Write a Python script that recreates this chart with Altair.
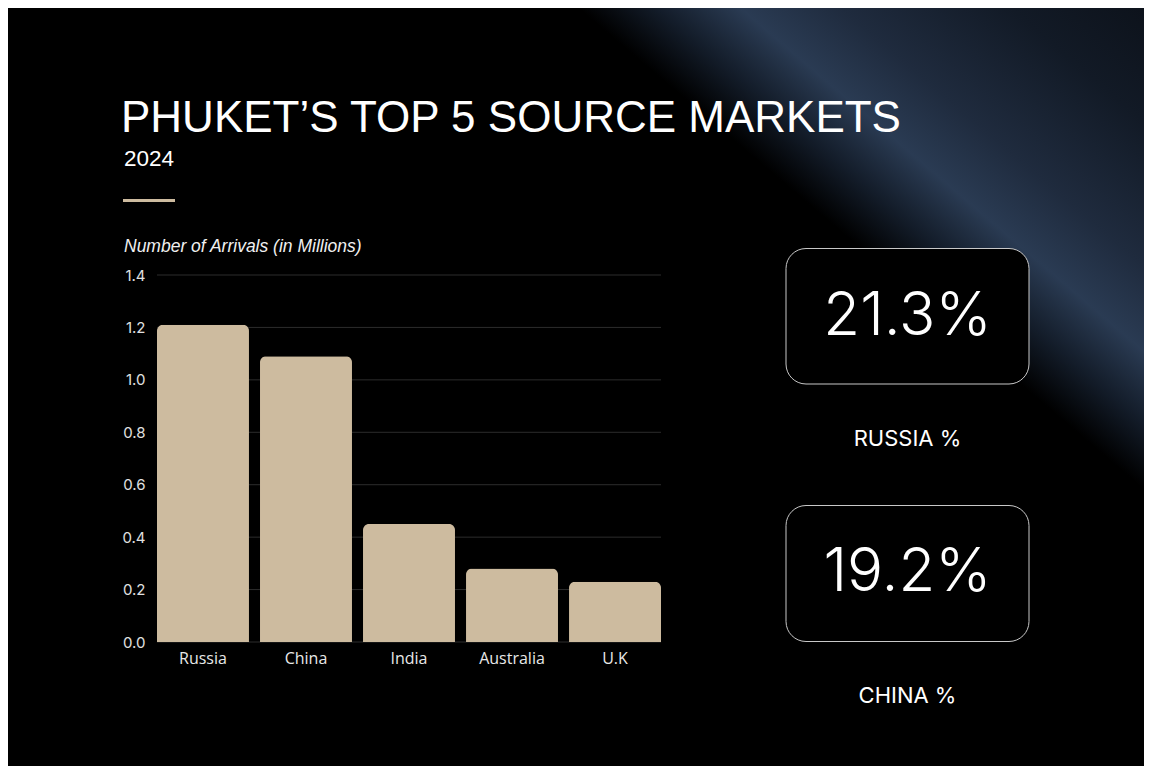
import altair as alt
import pandas as pd

# ---- data ----
markets = ["Russia", "China", "India", "Australia", "U.K"]
arrivals = [1.21, 1.09, 0.45, 0.28, 0.23]
tick_values = [0.0, 0.2, 0.4, 0.6, 0.8, 1.0, 1.2, 1.4]
share_values = ["21.3%", "19.2%"]
share_labels = ["RUSSIA %", "CHINA %"]
title_text = "PHUKET\u2019S TOP 5 SOURCE MARKETS"
subtitle_text = "2024"
axis_title_text = "Number of Arrivals (in Millions)"

df = pd.DataFrame({"market": markets, "arrivals": arrivals})
ticks_df = pd.DataFrame({"v": tick_values})
one = pd.DataFrame({"k": [0]})

W, H = 504, 367
TOTAL_W, TOTAL_H = 1136, 758
PAD_L, PAD_T = 149, 267

BEIGE = "#cdbb9f"
FONT_UI = "Open Sans"

yscale = alt.Scale(domain=[0, 1.4], nice=False)

# square backdrop with a diagonal blue glow towards the top-right
bg = alt.Chart(one).mark_rect(
    fill=alt.LinearGradient(
        gradient="linear",
        x1=0.464, y1=0.060, x2=0.749, y2=-0.275,
        stops=[
            alt.GradientStop(offset=0.0, color="#000000"),
            alt.GradientStop(offset=0.16, color="#000000"),
            alt.GradientStop(offset=0.26, color="#131c29"),
            alt.GradientStop(offset=0.37, color="#2a3b53"),
            alt.GradientStop(offset=0.50, color="#1f2b3e"),
            alt.GradientStop(offset=0.72, color="#121a26"),
            alt.GradientStop(offset=1.0, color="#0a0e15"),
        ],
    ),
    strokeWidth=0,
).encode(
    x=alt.value(-PAD_L), x2=alt.value(TOTAL_W - PAD_L),
    y=alt.value(-PAD_T), y2=alt.value(TOTAL_W - PAD_T),
)

grid = alt.Chart(ticks_df).mark_rule(color="#2c2c2c", strokeWidth=1).encode(
    y=alt.Y("v:Q", scale=yscale),
    x=alt.value(0), x2=alt.value(W),
)

bars = alt.Chart(df).mark_bar(
    color=BEIGE, cornerRadiusTopLeft=6, cornerRadiusTopRight=6
).encode(
    x=alt.X("market:N", sort=markets,
            scale=alt.Scale(paddingInner=0.107, paddingOuter=0),
            axis=alt.Axis(title=None, labelAngle=0, ticks=False, domain=False,
                          labelPadding=8, labelFont=FONT_UI, labelFontSize=16,
                          labelColor="#e8e8e8", zindex=1)),
    y=alt.Y("arrivals:Q", scale=yscale,
            axis=alt.Axis(title=None, values=tick_values, format=".1f",
                          grid=False, ticks=False, domain=False,
                          labelPadding=12, labelFont="Inter", labelFontSize=15,
                          labelColor="#e0e0e0", zindex=1)),
)

def text_layer(txt, x, y, size, font, align="left", baseline="alphabetic",
               weight="normal", style="normal", color="#ffffff"):
    return alt.Chart(pd.DataFrame({"t": [txt]})).mark_text(
        align=align, baseline=baseline, font=font, fontSize=size,
        fontWeight=weight, fontStyle=style, color=color,
    ).encode(text="t:N", x=alt.value(x), y=alt.value(y))

title = text_layer(title_text, -36, -143, 44, "Liberation Sans")
subtitle = text_layer(subtitle_text, -33, -109, 22.5, "Liberation Sans")
accent = alt.Chart(one).mark_rule(color=BEIGE, strokeWidth=3).encode(
    x=alt.value(-34), x2=alt.value(18), y=alt.value(-74.5)
)
axis_title = text_layer(axis_title_text, -33, -23, 17.5, "Liberation Sans",
                        style="italic", color="#f0f0f0")

def box(y0, y1):
    return alt.Chart(one).mark_rect(
        fill="#000000", stroke="#c8c8c8", strokeWidth=1, cornerRadius=20
    ).encode(x=alt.value(629), x2=alt.value(872), y=alt.value(y0), y2=alt.value(y1))

box1 = box(-26.5, 109)
box2 = box(230.5, 366.5)
pct1 = text_layer(share_values[0], 750.5, 42, 60, "Inter", align="center",
                  baseline="middle", weight=300)
pct2 = text_layer(share_values[1], 750.5, 298, 60, "Inter", align="center",
                  baseline="middle", weight=300)
lab1 = text_layer(share_labels[0], 750.5, 170.7, 22, "Inter", align="center")
lab2 = text_layer(share_labels[1], 750.5, 428, 22, "Inter", align="center")

chart = alt.layer(
    bg, grid, bars, title, subtitle, accent, axis_title,
    box1, box2, pct1, pct2, lab1, lab2
).properties(
    width=W, height=H,
    autosize=alt.AutoSizeParams(type="none"),
    padding={"left": PAD_L, "top": PAD_T,
             "right": TOTAL_W - PAD_L - W, "bottom": TOTAL_H - PAD_T - H},
).configure(background="#000000").configure_view(stroke=None)

chart.save("out.html", embed_options={"renderer": "svg", "actions": False})
